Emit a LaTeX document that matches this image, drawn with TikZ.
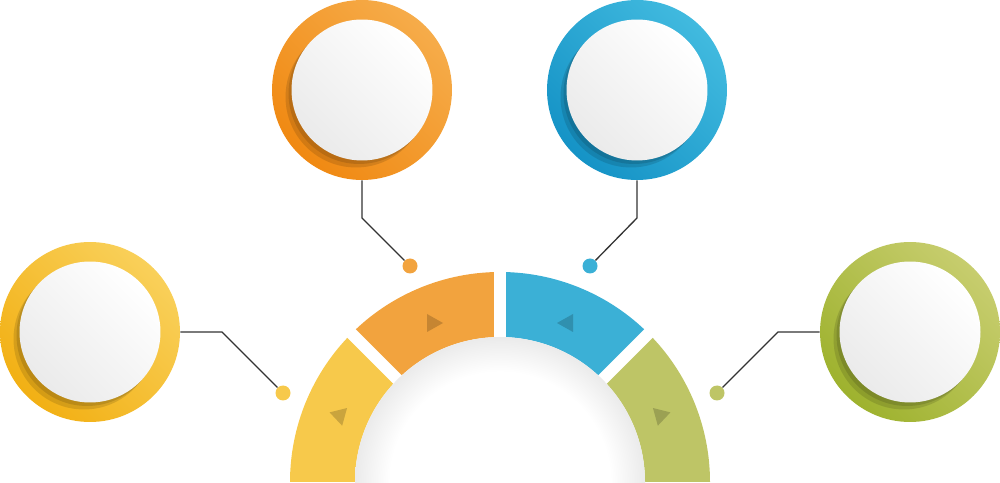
\documentclass[tikz,border=0pt]{standalone}
\usetikzlibrary{calc,shadows}

\definecolor{segY}{HTML}{F7C94B}
\definecolor{segO}{HTML}{F2A33E}
\definecolor{segB}{HTML}{3BB0D6}
\definecolor{segG}{HTML}{BEC566}
\definecolor{ringYl}{HTML}{F9D05A}
\definecolor{ringYd}{HTML}{F2B014}
\definecolor{ringOl}{HTML}{F6AC4A}
\definecolor{ringOd}{HTML}{F08912}
\definecolor{ringBl}{HTML}{41BADF}
\definecolor{ringBd}{HTML}{1593C6}
\definecolor{ringGl}{HTML}{C7CD6E}
\definecolor{ringGd}{HTML}{9EB22E}
\definecolor{wirecol}{HTML}{333333}

\pgfdeclareradialshading{hole}{\pgfpointorigin}{color(0bp)=(white); color(19bp)=(white); color(25bp)=(black!8); color(50bp)=(black!8)}

\tikzset{
  ring/.style={circle, inner sep=0pt, minimum size=3.6cm},
  disc/.style={circle, inner sep=0pt, minimum size=2.82cm,
    top color=white, bottom color=black!8, shading angle=-45,
    drop shadow={shadow xshift=-0.06cm, shadow yshift=-0.07cm, opacity=.12, fill=black},
    drop shadow={shadow xshift=-0.12cm, shadow yshift=-0.14cm, opacity=.12, fill=black}},
  dot/.style={circle, inner sep=0pt, minimum size=0.3cm},
  wire/.style={draw=wirecol, line width=0.75pt},
  tri/.style={fill=black, opacity=.18},
}

\begin{document}
\begin{tikzpicture}[x=0.02cm, y=0.02cm]
        \useasboundingbox (0,0) rectangle (1000,483);

        %%%%%%%%% Arco %%%%%%%%%%
        \coordinate (c) at (500,1);
        \foreach \a/\b/\col in {180/135/segY,135/90/segO,90/45/segB,45/0/segG}
            \fill[\col] ($(c)+(\a:210)$) arc[start angle=\a, end angle=\b, radius=210]
                -- ($(c)+(\b:145)$) arc[start angle=\b, end angle=\a, radius=145] -- cycle;

        %%%%%%%%% Tagli %%%%%%%%%
        \foreach \a in {45,90,135}
            \draw[white, line width=0.24cm] ($(c)+(\a:140)$) -- ($(c)+(\a:215)$);

        %%%%%%%%% Centro %%%%%%%%
        \shade[shading=hole] (c) circle[radius=145];

        %%%%%%%%% Frecce %%%%%%%%
        \foreach \x/\y/\r in {434/160/0,566/160/180,340/66/-76,660/66/-104}
            \fill[tri, shift={(\x,\y)}, rotate=\r] (9,0) -- (-7,9) -- (-7,-9) -- cycle;

        %%%%%%%%% Cerchi %%%%%%%%
        \foreach \n/\x/\y/\cl/\cd in {Y/90/151/ringYl/ringYd,O/362/393/ringOl/ringOd,B/637/393/ringBl/ringBd,G/910/151/ringGl/ringGd}{
            \node[ring, top color=\cl, bottom color=\cd, shading angle=-45] (ring\n) at (\x,\y) {};
            \node[disc] (disc\n) at (\x,\y) {};
        }

        %%%%%%%%% Punti %%%%%%%%%
        \node[dot, fill=segY] (dotY) at (283,90) {};
        \node[dot, fill=segO] (dotO) at (410,217) {};
        \node[dot, fill=segB] (dotB) at (590,217) {};
        \node[dot, fill=segG] (dotG) at (717,90) {};

        %%%%%%%%% Linee %%%%%%%%%
        \coordinate (kneeY) at (222,151);
        \coordinate (kneeO) at (362,265);
        \coordinate (kneeB) at (637,265);
        \coordinate (kneeG) at (778,151);
        \draw[wire] (ringY.east) -- (kneeY) -- (dotY);
        \draw[wire] (ringO.south) -- (kneeO) -- (dotO);
        \draw[wire] (ringB.south) -- (kneeB) -- (dotB);
        \draw[wire] (ringG.west) -- (kneeG) -- (dotG);
    \end{tikzpicture}
\end{document}
